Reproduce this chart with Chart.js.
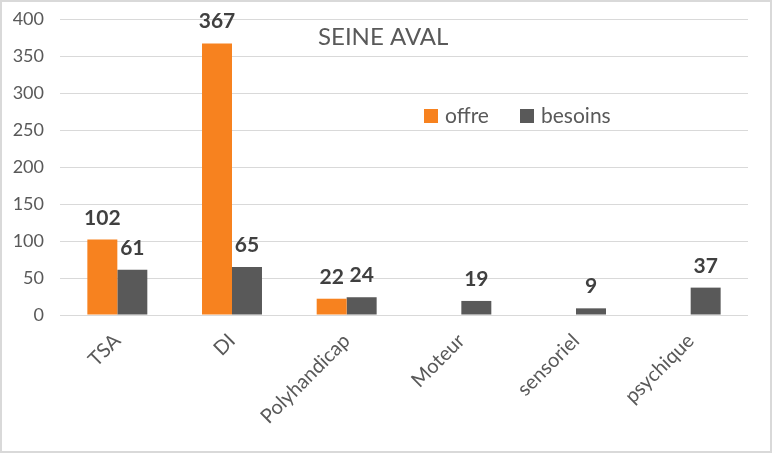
<!DOCTYPE html>
<html>
<head>
<meta charset="utf-8">
<script src="https://cdn.jsdelivr.net/npm/chart.js@4"></script>
<style>
  html, body { margin: 0; padding: 0; background: #fff; }
  #wrap { width: 772px; height: 453px; position: relative; }
</style>
</head>
<body>
<div id="wrap"><canvas id="chart" width="772" height="453"></canvas></div>
<script>
// Données
const categories = ['TSA', 'DI', 'Polyhandicap', 'Moteur', 'sensoriel', 'psychique'];
const offre = [102, 367, 22, null, null, null];
const besoins = [61, 65, 24, 19, 9, 37];
const yTicks = [0, 50, 100, 150, 200, 250, 300, 350, 400];
const chartTitle = 'SEINE AVAL';

const ORANGE = '#F7821F';
const GREY = '#595959';
const FONT = 'Lato, "Open Sans", sans-serif';

// labels de valeur au-dessus des barres
const valueLabels = {
    id: 'valueLabels',
    afterDatasetsDraw(chart) {
        const ctx = chart.ctx;
        ctx.save();
        ctx.font = 'bold 21px ' + FONT;
        ctx.fillStyle = '#404040';
        ctx.textAlign = 'center';
        ctx.textBaseline = 'alphabetic';
        chart.data.datasets.forEach((ds, i) => {
            chart.getDatasetMeta(i).data.forEach((bar, j) => {
                const v = ds.data[j];
                if (v === null || v === undefined) return;
                ctx.fillText(String(v), bar.x, bar.y - 15);
            });
        });
        ctx.restore();
    }
};

// titre + légende dans la zone du graphique, cadre
const overlay = {
    id: 'overlay',
    afterDraw(chart) {
        const ctx = chart.ctx;
        ctx.save();
        ctx.fillStyle = '#595959';
        ctx.font = '24px ' + FONT;
        ctx.textAlign = 'left';
        ctx.textBaseline = 'alphabetic';
        ctx.fillText(chartTitle, 318, 45);

        ctx.font = '21px ' + FONT;
        chart.data.datasets.forEach((ds, i) => {
            const x = i === 0 ? 424 : 520;
            ctx.fillStyle = ds.backgroundColor;
            ctx.fillRect(x, 109, 14, 14);
            ctx.fillStyle = '#595959';
            ctx.fillText(ds.label, x + 21, 123);
        });

        ctx.strokeStyle = '#d9d9d9';
        ctx.lineWidth = 2;
        ctx.strokeRect(1, 1, chart.width - 2, chart.height - 2);
        ctx.restore();
    }
};

document.addEventListener('DOMContentLoaded', function() {
    const ctx = document.getElementById('chart').getContext('2d');
    new Chart(ctx, {
        type: 'bar',
        data: {
            labels: categories,
            datasets: [{
                label: 'offre',
                data: offre,
                backgroundColor: ORANGE,
                categoryPercentage: 0.523,
                barPercentage: 1.0
            }, {
                label: 'besoins',
                data: besoins,
                backgroundColor: GREY,
                categoryPercentage: 0.523,
                barPercentage: 1.0
            }]
        },
        options: {
            responsive: false,
            animation: false,
            layout: { padding: { top: 19, right: 24, left: 0, bottom: 0 } },
            plugins: {
                legend: { display: false },
                title: { display: false },
                tooltip: { enabled: false }
            },
            scales: {
                x: {
                    grid: { display: false },
                    border: { display: false },
                    ticks: {
                        minRotation: 45,
                        maxRotation: 45,
                        padding: 6,
                        color: '#595959',
                        font: { family: FONT, size: 20 }
                    },
                    afterFit(s) { s.height = 138; }
                },
                y: {
                    min: yTicks[0],
                    max: yTicks[yTicks.length - 1],
                    afterBuildTicks(s) { s.ticks = yTicks.map(v => ({ value: v })); },
                    grid: { color: '#d9d9d9', drawTicks: true, tickLength: 16, tickColor: 'rgba(0,0,0,0)' },
                    border: { display: false },
                    ticks: {
                        padding: 0,
                        color: '#595959',
                        font: { family: FONT, size: 18 }
                    },
                    afterFit(s) { s.width = 60; }
                }
            }
        },
        plugins: [valueLabels, overlay]
    });
});
</script>
</body>
</html>
